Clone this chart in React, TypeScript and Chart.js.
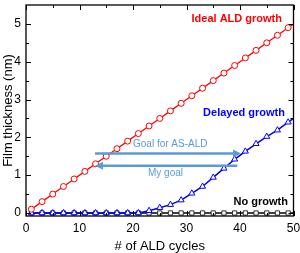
import React, { useEffect, useRef } from "react";
import { Chart, registerables } from "chart.js";

Chart.register(...registerables);

const cycles = [1, 3, 5, 7, 9, 11, 13, 15, 17, 19, 21, 23, 25, 27, 29, 31, 33, 35, 37, 39, 41, 43, 45, 47, 49, 50];
const idealGrowth = [0.1, 0.3, 0.5, 0.7, 0.9, 1.1, 1.3, 1.5, 1.7, 1.9, 2.1, 2.3, 2.5, 2.7, 2.9, 3.1, 3.3, 3.5, 3.7, 3.9, 4.1, 4.3, 4.5, 4.7, 4.9, 5.0];
const delayedGrowth = [0, 0, 0, 0, 0, 0, 0, 0, 0, 0, 0, 0.06, 0.14, 0.22, 0.34, 0.52, 0.7, 0.94, 1.18, 1.42, 1.63, 1.83, 2.02, 2.19, 2.4, 2.5];
const noGrowth = [0, 0, 0, 0, 0, 0, 0, 0, 0, 0, 0, 0, 0, 0, 0, 0, 0, 0, 0, 0, 0, 0, 0, 0, 0, 0];
const xTicks = [0, 10, 20, 30, 40, 50];
const yTicks = [0, 1, 2, 3, 4, 5];

const FONT = "'Liberation Sans', Arial, sans-serif";
const ARROW = "#5b9bd5";

const pts = (vals: number[]) => cycles.map((c, i) => ({ x: c, y: vals[i] }));
const radii = (r: number) => cycles.map((c) => (c % 2 === 1 ? r : 0));

const framePlugin = {
  id: "framePlugin",
  afterDraw(chart: any) {
    const { ctx, chartArea: a, scales } = chart;
    const xs = scales.x;
    const ys = scales.y;
    ctx.save();
    ctx.strokeStyle = "#000";
    ctx.lineWidth = 1.3;
    ctx.strokeRect(a.left, a.top, a.right - a.left, a.bottom - a.top);
    ctx.lineWidth = 1;
    for (let v = 0; v <= 50; v += 5) {
      const px = Math.round(xs.getPixelForValue(v)) + 0.5;
      const len = v % 10 === 0 ? 5 : 3;
      ctx.beginPath();
      ctx.moveTo(px, a.bottom);
      ctx.lineTo(px, a.bottom - len);
      ctx.moveTo(px, a.top);
      ctx.lineTo(px, a.top + len);
      ctx.stroke();
    }
    for (let v = 0; v <= 5.01; v += 0.5) {
      const py = Math.round(ys.getPixelForValue(v)) + 0.5;
      const len = Math.abs(v - Math.round(v)) < 0.01 ? 5 : 3;
      ctx.beginPath();
      ctx.moveTo(a.left, py);
      ctx.lineTo(a.left + len, py);
      ctx.moveTo(a.right, py);
      ctx.lineTo(a.right - len, py);
      ctx.stroke();
    }
    const drawArrow = (x1: number, x2: number, yv: number) => {
      const p1 = xs.getPixelForValue(x1);
      const p2 = xs.getPixelForValue(x2);
      const py = ys.getPixelForValue(yv);
      const dir = Math.sign(p2 - p1);
      const head = 8;
      ctx.strokeStyle = ARROW;
      ctx.fillStyle = ARROW;
      ctx.lineWidth = 2.5;
      ctx.beginPath();
      ctx.moveTo(p1, py);
      ctx.lineTo(p2 - dir * head, py);
      ctx.stroke();
      ctx.beginPath();
      ctx.moveTo(p2, py);
      ctx.lineTo(p2 - dir * head, py - 4);
      ctx.lineTo(p2 - dir * head, py + 4);
      ctx.closePath();
      ctx.fill();
    };
    drawArrow(12.9, 40.2, 1.57);
    drawArrow(39.5, 12.9, 1.25);
    ctx.textBaseline = "middle";
    ctx.fillStyle = ARROW;
    ctx.font = `10px ${FONT}`;
    ctx.textAlign = "left";
    ctx.fillText("Goal for AS-ALD", 133, 144);
    ctx.fillText("My goal", 148, 173);
    ctx.font = `bold 11px ${FONT}`;
    ctx.textAlign = "right";
    ctx.fillStyle = "#ff0000";
    ctx.fillText("Ideal ALD growth", 282, 19);
    ctx.fillStyle = "#0000ff";
    ctx.fillText("Delayed growth", 285, 113);
    ctx.fillStyle = "#000";
    ctx.fillText("No growth", 288, 202);
    ctx.font = `13px ${FONT}`;
    ctx.fillStyle = "#000";
    ctx.textAlign = "center";
    ctx.fillText("# of ALD cycles", (a.left + a.right) / 2, 246);
    ctx.save();
    ctx.translate(8, (a.top + a.bottom) / 2);
    ctx.rotate(-Math.PI / 2);
    ctx.fillText("Film thickness (nm)", 0, 0);
    ctx.restore();
    ctx.restore();
  },
};

export default function App() {
  const ref = useRef<HTMLCanvasElement>(null);
  useEffect(() => {
    if (!ref.current) return;
    const chart = new Chart(ref.current, {
      type: "line",
      data: {
        datasets: [
          {
            label: "Ideal ALD growth",
            data: pts(idealGrowth),
            borderColor: "#ff0000",
            backgroundColor: "#ffffff",
            pointBorderColor: "#ff0000",
            pointStyle: "circle",
            pointRadius: radii(3),
            pointBorderWidth: 1,
            borderWidth: 1.3,
            order: 0,
          },
          {
            label: "Delayed growth",
            data: pts(delayedGrowth),
            borderColor: "#0000ff",
            backgroundColor: "#ffffff",
            pointBorderColor: "#0000ff",
            pointStyle: "triangle",
            pointRadius: radii(3.5),
            pointBorderWidth: 1,
            borderWidth: 1.5,
            order: 1,
          },
          {
            label: "No growth",
            data: pts(noGrowth),
            borderColor: "#000000",
            backgroundColor: "#ffffff",
            pointBorderColor: "#333333",
            pointStyle: "rect",
            pointRadius: radii(3),
            pointBorderWidth: 1,
            borderWidth: 1.5,
            order: 2,
          },
        ],
      },
      options: {
        animation: false,
        responsive: true,
        maintainAspectRatio: false,
        layout: { padding: { top: 1, right: 6.5, left: 0, bottom: 0 } },
        plugins: { legend: { display: false }, tooltip: { enabled: false } },
        scales: {
          x: {
            type: "linear",
            min: 0,
            max: 50,
            grid: { display: false, drawTicks: false },
            border: { display: false },
            afterBuildTicks: (s: any) => {
              s.ticks = xTicks.map((v) => ({ value: v }));
            },
            afterFit: (s: any) => {
              s.height = 37;
              s.paddingLeft = 0;
              s.paddingRight = 0;
            },
            ticks: { color: "#000", padding: 5, font: { family: FONT, size: 12 }, maxRotation: 0 },
          },
          y: {
            type: "linear",
            min: -0.08,
            max: 5.5,
            grid: { display: false, drawTicks: false },
            border: { display: false },
            afterBuildTicks: (s: any) => {
              s.ticks = yTicks.map((v) => ({ value: v }));
            },
            afterFit: (s: any) => {
              s.width = 26;
              s.paddingTop = 0;
              s.paddingBottom = 0;
            },
            ticks: { color: "#000", padding: 5, font: { family: FONT, size: 12 } },
          },
        },
      },
      plugins: [framePlugin],
    });
    return () => chart.destroy();
  }, []);
  return (
    <div style={{ position: "fixed", left: 0, top: 0, width: 300, height: 253, background: "#fff" }}>
      <canvas ref={ref} />
    </div>
  );
}
